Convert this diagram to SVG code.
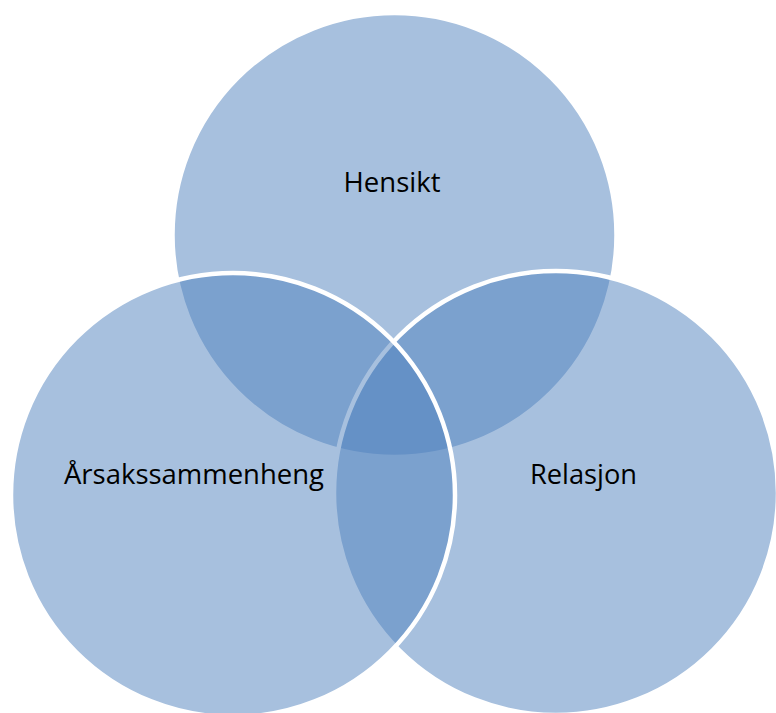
<svg xmlns="http://www.w3.org/2000/svg" width="776" height="713" viewBox="0 0 776 713">
<style>
.c{fill:#4F81BD;fill-opacity:0.5;stroke:#FFFFFF;stroke-width:4.5}
.t{font-family:"Open Sans","Liberation Sans",sans-serif;font-size:28px;fill:#000000;text-anchor:middle}
</style>
<rect width="776" height="713" fill="#FFFFFF"/>
<g id="hensikt">
<circle class="c" cx="394.5" cy="235" r="222"/>
</g>
<g id="relasjon">
<circle class="c" cx="556" cy="493" r="222"/>
</g>
<g id="arsakssammenheng">
<circle class="c" cx="233" cy="495" r="222"/>
</g>
<g id="labels">
<text class="t" x="392" y="192" textLength="97" lengthAdjust="spacingAndGlyphs">Hensikt</text>
<text class="t" x="194" y="484" textLength="260" lengthAdjust="spacingAndGlyphs">Årsakssammenheng</text>
<text class="t" x="583.5" y="484" textLength="107" lengthAdjust="spacingAndGlyphs">Relasjon</text>
</g>
<g id="connectors"/>
</svg>
